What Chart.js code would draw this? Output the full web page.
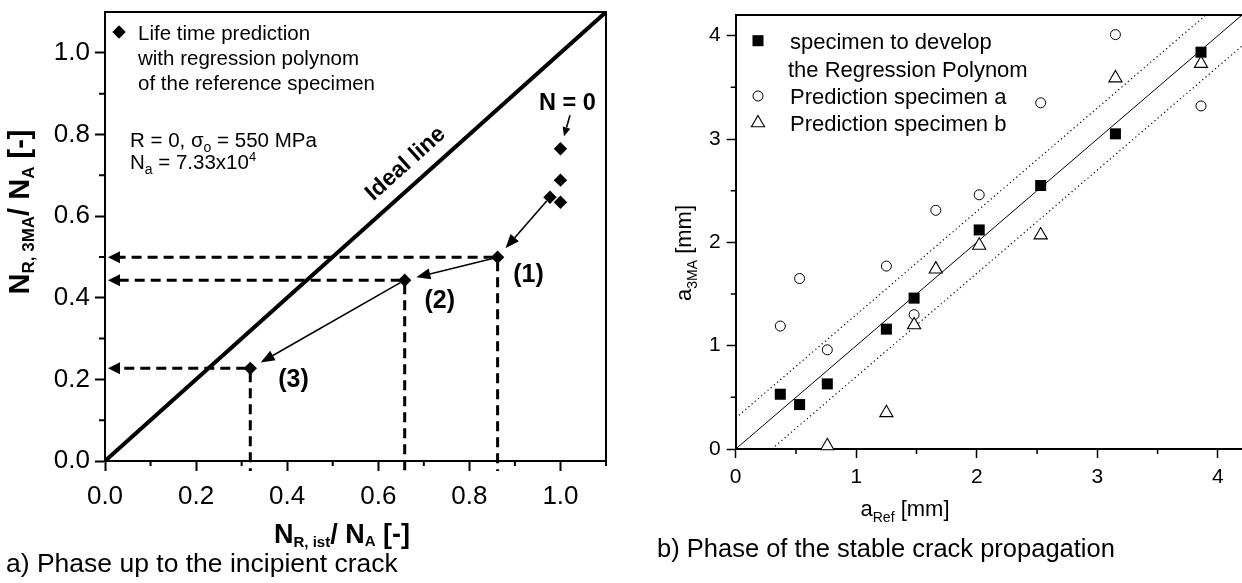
<!DOCTYPE html>
<html>
<head>
<meta charset="utf-8">
<script src="https://cdn.jsdelivr.net/npm/chart.js@4/dist/chart.umd.min.js"></script>
<style>
  html, body { margin: 0; padding: 0; background: #fff; }
  #wrap { position: relative; width: 1242px; height: 583px; overflow: hidden; }
  canvas { position: absolute; top: 0; }
  #incipient { left: 0; }
  #stable { left: 620px; }
</style>
</head>
<body>
<div id="wrap">
  <canvas id="incipient" width="625" height="583"></canvas>
  <canvas id="stable" width="622" height="583"></canvas>
</div>
<script>
// a) life time prediction up to the incipient crack
const lifeX = [1.0, 1.0, 0.977, 1.0, 0.862, 0.658, 0.319];
const lifeY = [0.765, 0.688, 0.646, 0.634, 0.499, 0.443, 0.227];
const tracedIdx = [4, 5, 6];
const tracedLabels = ['(1)', '(2)', '(3)'];
const arrowChain = [2, 4, 5, 6];        // prediction path drawn with arrows
const idealX = [0, 1.1];
const idealY = [0, 1.1];

// b) stable crack propagation, crack depth a [mm]
const regX = [0.37, 0.53, 0.76, 1.25, 1.48, 2.02, 2.53, 3.15, 3.86];
const regY = [0.53, 0.43, 0.63, 1.16, 1.46, 2.12, 2.55, 3.05, 3.84];
const predAX = [0.37, 0.53, 0.76, 1.25, 1.48, 1.66, 2.02, 2.53, 3.15, 3.86];
const predAY = [1.19, 1.65, 0.96, 1.77, 1.30, 2.31, 2.46, 3.35, 4.01, 3.32];
const predBX = [0.76, 1.25, 1.48, 1.66, 2.02, 2.53, 3.15, 3.86];
const predBY = [0.03, 0.35, 1.20, 1.74, 1.97, 2.07, 3.59, 3.73];
const fitX = [0, 4.2];
const fitY = [0, 4.2];
const bandUpX = [0, 3.9];
const bandUpY = [0.3, 4.2];
const bandLoX = [0.3, 4.2];
const bandLoY = [0, 3.9];

const FONT = '"Liberation Sans", Arial, Helvetica, sans-serif';
Chart.defaults.font.family = FONT;
Chart.defaults.color = '#000';

const pts = (xs, ys) => xs.map((v, i) => ({ x: v, y: ys[i] }));
const font = (size, bold) => (bold ? 'bold ' : '') + size + 'px ' + FONT;

// text made of runs: [text, size, baseline shift]
function richText(ctx, parts, x, y, align, bold) {
  let w = 0;
  for (const p of parts) { ctx.font = font(p[1], bold); w += ctx.measureText(p[0]).width; }
  let cx = align === 'center' ? x - w / 2 : x;
  ctx.textAlign = 'left';
  ctx.textBaseline = 'alphabetic';
  for (const p of parts) {
    ctx.font = font(p[1], bold);
    ctx.fillText(p[0], cx, y + (p[2] || 0));
    cx += ctx.measureText(p[0]).width;
  }
}
function richTextUp(ctx, parts, x, y, bold) {
  ctx.save();
  ctx.translate(x, y);
  ctx.rotate(-Math.PI / 2);
  richText(ctx, parts, 0, 0, 'center', bold);
  ctx.restore();
}

function arrowTo(ctx, x0, y0, x1, y1, o) {
  const a = Math.atan2(y1 - y0, x1 - x0);
  const ca = Math.cos(a), sa = Math.sin(a);
  const bx = x1 - ca * o.len, by = y1 - sa * o.len;
  ctx.save();
  ctx.lineWidth = o.width;
  ctx.setLineDash(o.dash || []);
  ctx.beginPath(); ctx.moveTo(x0, y0); ctx.lineTo(bx, by); ctx.stroke();
  ctx.setLineDash([]);
  ctx.beginPath();
  ctx.moveTo(x1, y1);
  ctx.lineTo(bx - sa * o.half, by + ca * o.half);
  ctx.lineTo(bx + sa * o.half, by - ca * o.half);
  ctx.closePath();
  ctx.fill();
  ctx.restore();
}
// arrow between two pixel points, trimmed at both ends
function linkArrow(ctx, p0, p1, gap0, gap1, o) {
  const dx = p1[0] - p0[0], dy = p1[1] - p0[1];
  const d = Math.hypot(dx, dy), ux = dx / d, uy = dy / d;
  arrowTo(ctx, p0[0] + ux * gap0, p0[1] + uy * gap0, p1[0] - ux * gap1, p1[1] - uy * gap1, o);
}

function minorTicks(ctx, scale, values, len, width) {
  ctx.save();
  ctx.lineWidth = width;
  ctx.strokeStyle = '#000';
  ctx.beginPath();
  for (const v of values) {
    const p = scale.getPixelForValue(v);
    if (scale.isHorizontal()) { ctx.moveTo(p, scale.top); ctx.lineTo(p, scale.top + len); }
    else { ctx.moveTo(scale.right, p); ctx.lineTo(scale.right - len, p); }
  }
  ctx.stroke();
  ctx.restore();
}

const diamondStyle = { pointStyle: 'rectRot', radius: 6.7, rotation: 0, borderWidth: 0 };
const squareStyle = { pointStyle: 'rect', radius: 7.8, rotation: 0, borderWidth: 0 };
const circleStyle = { pointStyle: 'circle', radius: 5, rotation: 0, borderWidth: 1 };
const triStyle = { pointStyle: 'triangle', radius: 7.6, rotation: 0, borderWidth: 1.1 };

function marker(ctx, style, x, y, fill) {
  ctx.save();
  ctx.fillStyle = fill;
  ctx.strokeStyle = '#000';
  ctx.lineWidth = style.borderWidth;
  Chart.helpers.drawPoint(ctx, style, x, y);
  ctx.restore();
}

const incipientDecor = {
  id: 'incipientDecor',
  beforeDatasetsDraw(chart) {
    const { ctx, chartArea: area, scales: { x, y } } = chart;
    ctx.save();
    ctx.strokeStyle = '#000';
    ctx.fillStyle = '#000';
    tracedIdx.forEach(i => {
      const px = x.getPixelForValue(lifeX[i]), py = y.getPixelForValue(lifeY[i]);
      arrowTo(ctx, px - 4, py, area.left + 3, py, { len: 12, half: 6, width: 3, dash: [10, 6] });
      ctx.lineWidth = 3;
      ctx.setLineDash([10, 6]);
      ctx.beginPath();
      ctx.moveTo(px, py + 4);
      ctx.lineTo(px, area.bottom + 10);
      ctx.stroke();
      ctx.setLineDash([]);
    });
    ctx.restore();
  },
  afterDatasetsDraw(chart) {
    const { ctx, chartArea: area, scales: { x, y } } = chart;
    const P = (vx, vy) => [x.getPixelForValue(vx), y.getPixelForValue(vy)];
    ctx.save();
    ctx.strokeStyle = '#000';
    ctx.fillStyle = '#000';

    // frame
    ctx.lineWidth = 2;
    ctx.beginPath();
    ctx.moveTo(area.left, area.top);
    ctx.lineTo(area.right, area.top);
    ctx.lineTo(area.right, area.bottom + 5);
    ctx.stroke();
    minorTicks(ctx, x, [0.1, 0.3, 0.5, 0.7, 0.9], 5, 2);
    minorTicks(ctx, y, [0.1, 0.3, 0.5, 0.7, 0.9], 6, 2);

    // prediction path
    for (let k = 0; k < arrowChain.length - 1; k++) {
      const a = arrowChain[k], b = arrowChain[k + 1];
      linkArrow(ctx, P(lifeX[a], lifeY[a]), P(lifeX[b], lifeY[b]), 5, 12, { len: 14, half: 5.5, width: 1.6 });
    }
    // N = 0 marker
    const top = P(lifeX[0], lifeY[0]);
    linkArrow(ctx, P(1.021, 0.847), top, 0, 13, { len: 9, half: 4, width: 1.6 });
    ctx.textAlign = 'center';
    ctx.textBaseline = 'middle';
    ctx.font = font(23.5, true);
    ctx.fillText('N = 0', ...P(1.015, 0.877));

    ctx.font = font(25, true);
    const labelAt = [[0.93, 0.455], [0.735, 0.392], [0.414, 0.199]];
    tracedLabels.forEach((t, k) => ctx.fillText(t, ...P(labelAt[k][0], labelAt[k][1])));

    // ideal line caption along the diagonal
    const i0 = P(idealX[0], idealY[0]), i1 = P(idealX[1], idealY[1]);
    const ang = Math.atan2(i1[1] - i0[1], i1[0] - i0[0]);
    ctx.save();
    ctx.translate(...P(0.66, 0.728));
    ctx.rotate(ang);
    ctx.font = font(23, true);
    ctx.fillText('Ideal line', 0, 0);
    ctx.restore();

    // legend and test conditions
    marker(ctx, diamondStyle, area.left + 14, area.top + 20, '#000');
    const lx = area.left + 33;
    ['Life time prediction', 'with regression polynom', 'of the reference specimen'].forEach((t, k) => {
      richText(ctx, [[t, 20.5]], lx, area.top + 27.5 + k * 25.3, 'left');
    });
    richText(ctx, [['R = 0, \u03c3', 20.5], ['o', 14, 5], [' = 550 MPa', 20.5]], area.left + 25, 147, 'left');
    richText(ctx, [['N', 20.5], ['a', 14, 5], [' = 7.33x10', 20.5], ['4', 13, -8]], area.left + 25, 169, 'left');

    // axis titles
    richTextUp(ctx, [['N', 29], ['R, 3MA', 17, 5], ['/ N', 29], ['A', 17, 5], [' [-]', 29]], 29, 212, true);
    richText(ctx, [['N', 27], ['R, ist', 15, 4], ['/ N', 27], ['A', 15, 3], [' [-]', 27]], 342, 543, 'center', true);

    richText(ctx, [['a) Phase up to the incipient crack', 26.5]], 6, 572, 'left');
    ctx.restore();
  }
};

const stableDecor = {
  id: 'stableDecor',
  afterDatasetsDraw(chart) {
    const { ctx, chartArea: area, scales: { x, y } } = chart;
    ctx.save();
    ctx.strokeStyle = '#000';
    ctx.fillStyle = '#000';
    ctx.lineWidth = 2;
    ctx.beginPath();
    ctx.moveTo(area.left, area.top);
    ctx.lineTo(area.right, area.top);
    ctx.stroke();
    minorTicks(ctx, x, [0.5, 1.5, 2.5, 3.5], 5, 1.5);
    minorTicks(ctx, y, [0.5, 1.5, 2.5, 3.5], 5, 1.5);

    // legend
    const mx = 138, tx = 170;
    marker(ctx, squareStyle, mx, 40.7, '#000');
    marker(ctx, circleStyle, mx, 96, '#fff');
    marker(ctx, triStyle, mx, 123, '#fff');
    richText(ctx, [['specimen to develop', 22]], tx, 49, 'left');
    richText(ctx, [['the Regression Polynom', 22]], tx - 2, 76.5, 'left');
    richText(ctx, [['Prediction specimen a', 22]], tx, 104, 'left');
    richText(ctx, [['Prediction specimen b', 22]], tx, 131, 'left');

    // axis titles
    richTextUp(ctx, [['a', 22], ['3MA', 14, 6], [' [mm]', 22]], 71, 253, false);
    richText(ctx, [['a', 22], ['Ref', 14, 6], [' [mm]', 22]], 285, 516, 'center', false);

    richText(ctx, [['b) Phase of the stable crack propagation', 25.5]], 37, 557, 'left');
    ctx.restore();
  }
};

function axis(min, max, step, size, pad, len, width, fmt, fit) {
  return {
    type: 'linear', min: min, max: max,
    ticks: { stepSize: step, includeBounds: false, padding: pad, color: '#000', font: { size: size }, callback: fmt, maxRotation: 0, autoSkip: false },
    grid: { drawOnChartArea: false, tickLength: len, tickWidth: width, tickColor: '#000' },
    border: { color: '#000', width: 2 },
    afterFit: s => {
      fit(s);
      // keep the plot area exactly where the layout padding puts it
      s.paddingLeft = 0; s.paddingRight = 0; s.paddingTop = 0; s.paddingBottom = 0;
    }
  };
}

new Chart(document.getElementById('incipient'), {
  type: 'scatter',
  data: {
    datasets: [
      { type: 'line', label: 'Ideal line', data: pts(idealX, idealY), borderColor: '#000', borderWidth: 4, pointRadius: 0, order: 2 },
      { label: 'Life time prediction', data: pts(lifeX, lifeY), pointStyle: 'rectRot', pointRadius: 6.7,
        backgroundColor: '#000', borderColor: '#000', borderWidth: 0, clip: false, order: 1 }
    ]
  },
  options: {
    responsive: false,
    animation: false,
    events: [],
    layout: { autoPadding: false, padding: { top: 12, right: 19, left: 0, bottom: 0 } },
    plugins: { legend: { display: false }, tooltip: { enabled: false } },
    scales: {
      x: axis(0, 1.1, 0.2, 26, 10, 10, 2, v => v.toFixed(1), s => { s.height = 122; }),
      y: axis(0, 1.1, 0.2, 26, 5, 10, 2, v => v.toFixed(1), s => { s.width = 105; })
    }
  },
  plugins: [incipientDecor]
});

new Chart(document.getElementById('stable'), {
  type: 'scatter',
  data: {
    datasets: [
      { type: 'line', label: 'fit', data: pts(fitX, fitY), borderColor: '#000', borderWidth: 1, pointRadius: 0, order: 5 },
      { type: 'line', label: 'upper band', data: pts(bandUpX, bandUpY), borderColor: '#000', borderWidth: 1.2, borderDash: [1.2, 3], pointRadius: 0, order: 6 },
      { type: 'line', label: 'lower band', data: pts(bandLoX, bandLoY), borderColor: '#000', borderWidth: 1.2, borderDash: [1.2, 3], pointRadius: 0, order: 7 },
      { label: 'specimen to develop the Regression Polynom', data: pts(regX, regY), pointStyle: 'rect', pointRadius: 7.8,
        backgroundColor: '#000', borderColor: '#000', borderWidth: 0, clip: false, order: 3 },
      { label: 'Prediction specimen a', data: pts(predAX, predAY), pointStyle: 'circle', pointRadius: 5,
        backgroundColor: '#fff', borderColor: '#000', borderWidth: 1, clip: false, order: 2 },
      { label: 'Prediction specimen b', data: pts(predBX, predBY), pointStyle: 'triangle', pointRadius: 7.6,
        backgroundColor: '#fff', borderColor: '#000', borderWidth: 1.1, clip: false, order: 1 }
    ]
  },
  options: {
    responsive: false,
    animation: false,
    events: [],
    layout: { autoPadding: false, padding: { top: 15, right: 0, left: 0, bottom: 0 } },
    plugins: { legend: { display: false }, tooltip: { enabled: false } },
    scales: {
      x: axis(0, 4.2, 1, 21, 7, 9, 1.5, v => v, s => { s.height = 134; }),
      y: axis(0, 4.2, 1, 21, 6, 9, 1.5, v => v, s => { s.width = 115.7; })
    }
  },
  plugins: [stableDecor]
});
</script>
</body>
</html>
